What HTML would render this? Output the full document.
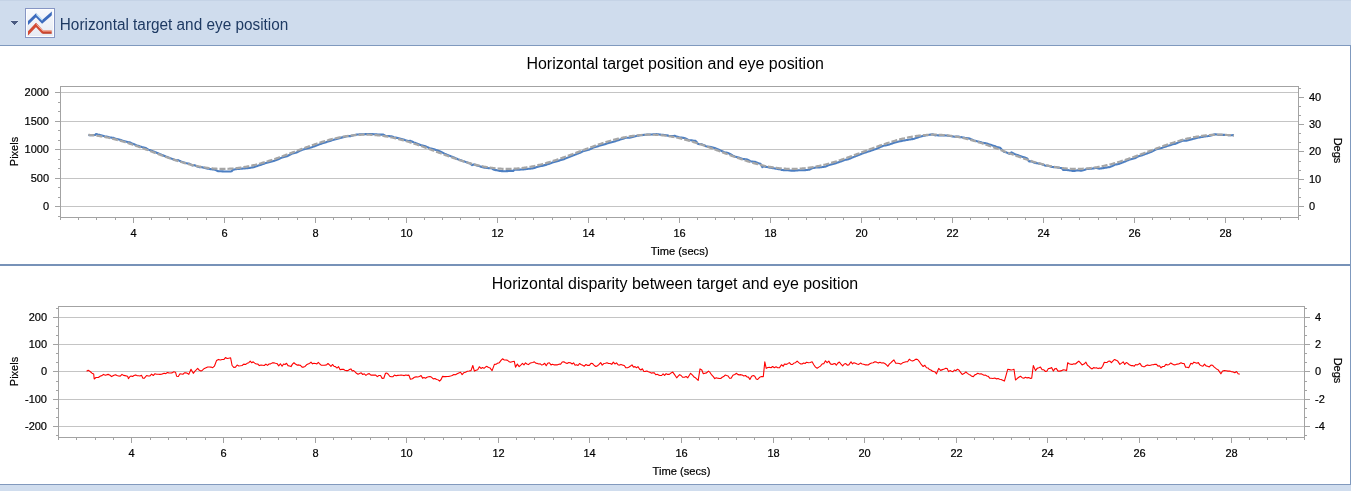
<!DOCTYPE html>
<html><head><meta charset="utf-8"><title>Horizontal target and eye position</title>
<style>
html,body{margin:0;padding:0;background:#fff;}
body{width:1351px;height:491px;overflow:hidden;position:relative;font-family:'Liberation Sans', Arial, sans-serif;}
#hdr{position:absolute;left:0;top:0;width:1351px;height:45px;background:#cfdced;border-top:1px solid #c5d3e6;box-sizing:border-box;}
#hdrline{position:absolute;left:0;top:45px;width:1351px;height:1px;background:#7f99be;}
#rb{position:absolute;left:1350px;top:46px;width:1px;height:439px;background:#7f99be;}
#sep{position:absolute;left:0;top:264px;width:1350px;height:2px;background:#7792b8;}
#bot{position:absolute;left:0;top:484px;width:1351px;height:1px;background:#8199bd;}
#botbg{position:absolute;left:0;top:485px;width:1351px;height:6px;background:#d0ddee;}
svg{position:absolute;left:0;top:0;}
svg text{font-family:'Liberation Sans', Arial, sans-serif;}
</style></head><body>
<div id="hdr"></div>
<div id="hdrline"></div>
<svg width="1351" height="491" viewBox="0 0 1351 491">
<defs><linearGradient id="ig" x1="0" y1="0" x2="0" y2="1"><stop offset="0" stop-color="#f9fafd"/><stop offset="1" stop-color="#e6eaf3"/></linearGradient><clipPath id="ic"><rect x="28" y="9" width="23.8" height="27"/></clipPath></defs>

<rect x="25.5" y="8.5" width="29" height="29" fill="url(#ig)" stroke="#8796c4"/><rect x="26.5" y="9.5" width="27" height="27" fill="none" stroke="#ffffff" stroke-opacity="0.9"/>
<g clip-path="url(#ic)"><polyline points="27,24 36,15.2 42.2,21.8 52.8,12.6" fill="none" stroke="#3d6bbd" stroke-width="2.9" stroke-linejoin="miter"/>
<polyline points="36.4,14.3 42.4,20.2" fill="none" stroke="#c2e4fa" stroke-width="1.2"/>
<polyline points="27.2,34.2 36,25 42.6,32 51.8,32" fill="none" stroke="#d24a33" stroke-width="3" stroke-linejoin="miter"/>
<polyline points="36.4,24.3 42.9,31 51.8,31" fill="none" stroke="#f6b8a2" stroke-width="0.9"/>
<polyline points="42.6,33.2 51.8,33.2" fill="none" stroke="#b03520" stroke-width="0.8"/></g>
<rect x="11" y="21" width="7" height="1" fill="#4a5a80"/>
<rect x="12" y="22" width="5" height="1" fill="#4a5a80"/>
<rect x="13" y="23" width="3" height="1" fill="#4a5a80"/>
<rect x="14" y="24" width="1" height="1" fill="#4a5a80"/>
<rect x="11" y="20" width="7" height="1" fill="#dbe4f1"/>

<g shape-rendering="crispEdges">
<rect x="61" y="92" width="1237" height="1" fill="#c4c4c4"/>
<rect x="61" y="121" width="1237" height="1" fill="#c4c4c4"/>
<rect x="61" y="149" width="1237" height="1" fill="#c4c4c4"/>
<rect x="61" y="178" width="1237" height="1" fill="#c4c4c4"/>
<rect x="61" y="206" width="1237" height="1" fill="#c4c4c4"/>
<rect x="60" y="86" width="1239" height="1" fill="#a3a3a3"/>
<rect x="60" y="217" width="1239" height="1" fill="#a3a3a3"/>
<rect x="60" y="86" width="1" height="134" fill="#a3a3a3"/>
<rect x="1298" y="86" width="1" height="134" fill="#a3a3a3"/>
<rect x="55" y="92" width="5" height="1" fill="#a3a3a3"/>
<rect x="55" y="121" width="5" height="1" fill="#a3a3a3"/>
<rect x="55" y="149" width="5" height="1" fill="#a3a3a3"/>
<rect x="55" y="178" width="5" height="1" fill="#a3a3a3"/>
<rect x="55" y="206" width="5" height="1" fill="#a3a3a3"/>
<rect x="58" y="102" width="2" height="1" fill="#a3a3a3"/>
<rect x="58" y="111" width="2" height="1" fill="#a3a3a3"/>
<rect x="58" y="130" width="2" height="1" fill="#a3a3a3"/>
<rect x="58" y="140" width="2" height="1" fill="#a3a3a3"/>
<rect x="58" y="159" width="2" height="1" fill="#a3a3a3"/>
<rect x="58" y="168" width="2" height="1" fill="#a3a3a3"/>
<rect x="58" y="187" width="2" height="1" fill="#a3a3a3"/>
<rect x="58" y="197" width="2" height="1" fill="#a3a3a3"/>
<rect x="58" y="216" width="2" height="1" fill="#a3a3a3"/>
<rect x="1299" y="97" width="5" height="1" fill="#a3a3a3"/>
<rect x="1299" y="124" width="5" height="1" fill="#a3a3a3"/>
<rect x="1299" y="151" width="5" height="1" fill="#a3a3a3"/>
<rect x="1299" y="179" width="5" height="1" fill="#a3a3a3"/>
<rect x="1299" y="206" width="5" height="1" fill="#a3a3a3"/>
<rect x="1299" y="88" width="2" height="1" fill="#a3a3a3"/>
<rect x="1299" y="106" width="2" height="1" fill="#a3a3a3"/>
<rect x="1299" y="115" width="2" height="1" fill="#a3a3a3"/>
<rect x="1299" y="133" width="2" height="1" fill="#a3a3a3"/>
<rect x="1299" y="142" width="2" height="1" fill="#a3a3a3"/>
<rect x="1299" y="161" width="2" height="1" fill="#a3a3a3"/>
<rect x="1299" y="170" width="2" height="1" fill="#a3a3a3"/>
<rect x="1299" y="188" width="2" height="1" fill="#a3a3a3"/>
<rect x="1299" y="197" width="2" height="1" fill="#a3a3a3"/>
<rect x="1299" y="215" width="2" height="1" fill="#a3a3a3"/>
<rect x="60" y="218" width="1" height="2" fill="#a3a3a3"/>
<rect x="78" y="218" width="1" height="2" fill="#a3a3a3"/>
<rect x="96" y="218" width="1" height="2" fill="#a3a3a3"/>
<rect x="115" y="218" width="1" height="2" fill="#a3a3a3"/>
<rect x="133" y="218" width="1" height="5" fill="#a3a3a3"/>
<rect x="151" y="218" width="1" height="2" fill="#a3a3a3"/>
<rect x="169" y="218" width="1" height="2" fill="#a3a3a3"/>
<rect x="187" y="218" width="1" height="2" fill="#a3a3a3"/>
<rect x="206" y="218" width="1" height="2" fill="#a3a3a3"/>
<rect x="224" y="218" width="1" height="5" fill="#a3a3a3"/>
<rect x="242" y="218" width="1" height="2" fill="#a3a3a3"/>
<rect x="260" y="218" width="1" height="2" fill="#a3a3a3"/>
<rect x="278" y="218" width="1" height="2" fill="#a3a3a3"/>
<rect x="297" y="218" width="1" height="2" fill="#a3a3a3"/>
<rect x="315" y="218" width="1" height="5" fill="#a3a3a3"/>
<rect x="333" y="218" width="1" height="2" fill="#a3a3a3"/>
<rect x="351" y="218" width="1" height="2" fill="#a3a3a3"/>
<rect x="369" y="218" width="1" height="2" fill="#a3a3a3"/>
<rect x="388" y="218" width="1" height="2" fill="#a3a3a3"/>
<rect x="406" y="218" width="1" height="5" fill="#a3a3a3"/>
<rect x="424" y="218" width="1" height="2" fill="#a3a3a3"/>
<rect x="442" y="218" width="1" height="2" fill="#a3a3a3"/>
<rect x="460" y="218" width="1" height="2" fill="#a3a3a3"/>
<rect x="479" y="218" width="1" height="2" fill="#a3a3a3"/>
<rect x="497" y="218" width="1" height="5" fill="#a3a3a3"/>
<rect x="515" y="218" width="1" height="2" fill="#a3a3a3"/>
<rect x="533" y="218" width="1" height="2" fill="#a3a3a3"/>
<rect x="552" y="218" width="1" height="2" fill="#a3a3a3"/>
<rect x="570" y="218" width="1" height="2" fill="#a3a3a3"/>
<rect x="588" y="218" width="1" height="5" fill="#a3a3a3"/>
<rect x="606" y="218" width="1" height="2" fill="#a3a3a3"/>
<rect x="624" y="218" width="1" height="2" fill="#a3a3a3"/>
<rect x="643" y="218" width="1" height="2" fill="#a3a3a3"/>
<rect x="661" y="218" width="1" height="2" fill="#a3a3a3"/>
<rect x="679" y="218" width="1" height="5" fill="#a3a3a3"/>
<rect x="697" y="218" width="1" height="2" fill="#a3a3a3"/>
<rect x="715" y="218" width="1" height="2" fill="#a3a3a3"/>
<rect x="734" y="218" width="1" height="2" fill="#a3a3a3"/>
<rect x="752" y="218" width="1" height="2" fill="#a3a3a3"/>
<rect x="770" y="218" width="1" height="5" fill="#a3a3a3"/>
<rect x="788" y="218" width="1" height="2" fill="#a3a3a3"/>
<rect x="806" y="218" width="1" height="2" fill="#a3a3a3"/>
<rect x="825" y="218" width="1" height="2" fill="#a3a3a3"/>
<rect x="843" y="218" width="1" height="2" fill="#a3a3a3"/>
<rect x="861" y="218" width="1" height="5" fill="#a3a3a3"/>
<rect x="879" y="218" width="1" height="2" fill="#a3a3a3"/>
<rect x="897" y="218" width="1" height="2" fill="#a3a3a3"/>
<rect x="916" y="218" width="1" height="2" fill="#a3a3a3"/>
<rect x="934" y="218" width="1" height="2" fill="#a3a3a3"/>
<rect x="952" y="218" width="1" height="5" fill="#a3a3a3"/>
<rect x="970" y="218" width="1" height="2" fill="#a3a3a3"/>
<rect x="988" y="218" width="1" height="2" fill="#a3a3a3"/>
<rect x="1007" y="218" width="1" height="2" fill="#a3a3a3"/>
<rect x="1025" y="218" width="1" height="2" fill="#a3a3a3"/>
<rect x="1043" y="218" width="1" height="5" fill="#a3a3a3"/>
<rect x="1061" y="218" width="1" height="2" fill="#a3a3a3"/>
<rect x="1079" y="218" width="1" height="2" fill="#a3a3a3"/>
<rect x="1098" y="218" width="1" height="2" fill="#a3a3a3"/>
<rect x="1116" y="218" width="1" height="2" fill="#a3a3a3"/>
<rect x="1134" y="218" width="1" height="5" fill="#a3a3a3"/>
<rect x="1152" y="218" width="1" height="2" fill="#a3a3a3"/>
<rect x="1170" y="218" width="1" height="2" fill="#a3a3a3"/>
<rect x="1189" y="218" width="1" height="2" fill="#a3a3a3"/>
<rect x="1207" y="218" width="1" height="2" fill="#a3a3a3"/>
<rect x="1225" y="218" width="1" height="5" fill="#a3a3a3"/>
<rect x="1243" y="218" width="1" height="2" fill="#a3a3a3"/>
<rect x="1261" y="218" width="1" height="2" fill="#a3a3a3"/>
<rect x="1280" y="218" width="1" height="2" fill="#a3a3a3"/>
<rect x="1298" y="218" width="1" height="2" fill="#a3a3a3"/>
<rect x="59" y="317" width="1245" height="1" fill="#c4c4c4"/>
<rect x="59" y="344" width="1245" height="1" fill="#c4c4c4"/>
<rect x="59" y="371" width="1245" height="1" fill="#c4c4c4"/>
<rect x="59" y="399" width="1245" height="1" fill="#c4c4c4"/>
<rect x="59" y="426" width="1245" height="1" fill="#c4c4c4"/>
<rect x="58" y="306" width="1247" height="1" fill="#a3a3a3"/>
<rect x="58" y="437" width="1247" height="1" fill="#a3a3a3"/>
<rect x="58" y="306" width="1" height="134" fill="#a3a3a3"/>
<rect x="1304" y="306" width="1" height="134" fill="#a3a3a3"/>
<rect x="53" y="317" width="5" height="1" fill="#a3a3a3"/>
<rect x="53" y="344" width="5" height="1" fill="#a3a3a3"/>
<rect x="53" y="371" width="5" height="1" fill="#a3a3a3"/>
<rect x="53" y="399" width="5" height="1" fill="#a3a3a3"/>
<rect x="53" y="426" width="5" height="1" fill="#a3a3a3"/>
<rect x="56" y="308" width="2" height="1" fill="#a3a3a3"/>
<rect x="56" y="326" width="2" height="1" fill="#a3a3a3"/>
<rect x="56" y="335" width="2" height="1" fill="#a3a3a3"/>
<rect x="56" y="353" width="2" height="1" fill="#a3a3a3"/>
<rect x="56" y="362" width="2" height="1" fill="#a3a3a3"/>
<rect x="56" y="381" width="2" height="1" fill="#a3a3a3"/>
<rect x="56" y="390" width="2" height="1" fill="#a3a3a3"/>
<rect x="56" y="408" width="2" height="1" fill="#a3a3a3"/>
<rect x="56" y="417" width="2" height="1" fill="#a3a3a3"/>
<rect x="56" y="435" width="2" height="1" fill="#a3a3a3"/>
<rect x="1305" y="317" width="5" height="1" fill="#a3a3a3"/>
<rect x="1305" y="344" width="5" height="1" fill="#a3a3a3"/>
<rect x="1305" y="371" width="5" height="1" fill="#a3a3a3"/>
<rect x="1305" y="399" width="5" height="1" fill="#a3a3a3"/>
<rect x="1305" y="426" width="5" height="1" fill="#a3a3a3"/>
<rect x="1305" y="308" width="2" height="1" fill="#a3a3a3"/>
<rect x="1305" y="326" width="2" height="1" fill="#a3a3a3"/>
<rect x="1305" y="335" width="2" height="1" fill="#a3a3a3"/>
<rect x="1305" y="353" width="2" height="1" fill="#a3a3a3"/>
<rect x="1305" y="362" width="2" height="1" fill="#a3a3a3"/>
<rect x="1305" y="381" width="2" height="1" fill="#a3a3a3"/>
<rect x="1305" y="390" width="2" height="1" fill="#a3a3a3"/>
<rect x="1305" y="408" width="2" height="1" fill="#a3a3a3"/>
<rect x="1305" y="417" width="2" height="1" fill="#a3a3a3"/>
<rect x="1305" y="435" width="2" height="1" fill="#a3a3a3"/>
<rect x="58" y="438" width="1" height="2" fill="#a3a3a3"/>
<rect x="76" y="438" width="1" height="2" fill="#a3a3a3"/>
<rect x="95" y="438" width="1" height="2" fill="#a3a3a3"/>
<rect x="113" y="438" width="1" height="2" fill="#a3a3a3"/>
<rect x="131" y="438" width="1" height="5" fill="#a3a3a3"/>
<rect x="150" y="438" width="1" height="2" fill="#a3a3a3"/>
<rect x="168" y="438" width="1" height="2" fill="#a3a3a3"/>
<rect x="186" y="438" width="1" height="2" fill="#a3a3a3"/>
<rect x="205" y="438" width="1" height="2" fill="#a3a3a3"/>
<rect x="223" y="438" width="1" height="5" fill="#a3a3a3"/>
<rect x="241" y="438" width="1" height="2" fill="#a3a3a3"/>
<rect x="260" y="438" width="1" height="2" fill="#a3a3a3"/>
<rect x="278" y="438" width="1" height="2" fill="#a3a3a3"/>
<rect x="296" y="438" width="1" height="2" fill="#a3a3a3"/>
<rect x="315" y="438" width="1" height="5" fill="#a3a3a3"/>
<rect x="333" y="438" width="1" height="2" fill="#a3a3a3"/>
<rect x="351" y="438" width="1" height="2" fill="#a3a3a3"/>
<rect x="370" y="438" width="1" height="2" fill="#a3a3a3"/>
<rect x="388" y="438" width="1" height="2" fill="#a3a3a3"/>
<rect x="406" y="438" width="1" height="5" fill="#a3a3a3"/>
<rect x="424" y="438" width="1" height="2" fill="#a3a3a3"/>
<rect x="443" y="438" width="1" height="2" fill="#a3a3a3"/>
<rect x="461" y="438" width="1" height="2" fill="#a3a3a3"/>
<rect x="479" y="438" width="1" height="2" fill="#a3a3a3"/>
<rect x="498" y="438" width="1" height="5" fill="#a3a3a3"/>
<rect x="516" y="438" width="1" height="2" fill="#a3a3a3"/>
<rect x="534" y="438" width="1" height="2" fill="#a3a3a3"/>
<rect x="553" y="438" width="1" height="2" fill="#a3a3a3"/>
<rect x="571" y="438" width="1" height="2" fill="#a3a3a3"/>
<rect x="589" y="438" width="1" height="5" fill="#a3a3a3"/>
<rect x="608" y="438" width="1" height="2" fill="#a3a3a3"/>
<rect x="626" y="438" width="1" height="2" fill="#a3a3a3"/>
<rect x="644" y="438" width="1" height="2" fill="#a3a3a3"/>
<rect x="663" y="438" width="1" height="2" fill="#a3a3a3"/>
<rect x="681" y="438" width="1" height="5" fill="#a3a3a3"/>
<rect x="699" y="438" width="1" height="2" fill="#a3a3a3"/>
<rect x="718" y="438" width="1" height="2" fill="#a3a3a3"/>
<rect x="736" y="438" width="1" height="2" fill="#a3a3a3"/>
<rect x="754" y="438" width="1" height="2" fill="#a3a3a3"/>
<rect x="773" y="438" width="1" height="5" fill="#a3a3a3"/>
<rect x="791" y="438" width="1" height="2" fill="#a3a3a3"/>
<rect x="809" y="438" width="1" height="2" fill="#a3a3a3"/>
<rect x="828" y="438" width="1" height="2" fill="#a3a3a3"/>
<rect x="846" y="438" width="1" height="2" fill="#a3a3a3"/>
<rect x="864" y="438" width="1" height="5" fill="#a3a3a3"/>
<rect x="883" y="438" width="1" height="2" fill="#a3a3a3"/>
<rect x="901" y="438" width="1" height="2" fill="#a3a3a3"/>
<rect x="919" y="438" width="1" height="2" fill="#a3a3a3"/>
<rect x="938" y="438" width="1" height="2" fill="#a3a3a3"/>
<rect x="956" y="438" width="1" height="5" fill="#a3a3a3"/>
<rect x="974" y="438" width="1" height="2" fill="#a3a3a3"/>
<rect x="993" y="438" width="1" height="2" fill="#a3a3a3"/>
<rect x="1011" y="438" width="1" height="2" fill="#a3a3a3"/>
<rect x="1029" y="438" width="1" height="2" fill="#a3a3a3"/>
<rect x="1047" y="438" width="1" height="5" fill="#a3a3a3"/>
<rect x="1066" y="438" width="1" height="2" fill="#a3a3a3"/>
<rect x="1084" y="438" width="1" height="2" fill="#a3a3a3"/>
<rect x="1102" y="438" width="1" height="2" fill="#a3a3a3"/>
<rect x="1121" y="438" width="1" height="2" fill="#a3a3a3"/>
<rect x="1139" y="438" width="1" height="5" fill="#a3a3a3"/>
<rect x="1157" y="438" width="1" height="2" fill="#a3a3a3"/>
<rect x="1176" y="438" width="1" height="2" fill="#a3a3a3"/>
<rect x="1194" y="438" width="1" height="2" fill="#a3a3a3"/>
<rect x="1212" y="438" width="1" height="2" fill="#a3a3a3"/>
<rect x="1231" y="438" width="1" height="5" fill="#a3a3a3"/>
<rect x="1249" y="438" width="1" height="2" fill="#a3a3a3"/>
<rect x="1267" y="438" width="1" height="2" fill="#a3a3a3"/>
<rect x="1286" y="438" width="1" height="2" fill="#a3a3a3"/>
<rect x="1304" y="438" width="1" height="2" fill="#a3a3a3"/>
</g>
<path d="M88.42,134.97 L89.37,135.16 L90.33,135.26 L91.28,135.18 L92.23,135.11 L93.19,135.04 L94.14,135.01 L95.10,135.02 L96.05,134.07 L97.01,134.35 L97.96,134.61 L98.92,134.75 L99.87,134.89 L100.83,135.15 L101.78,135.45 L102.74,135.73 L103.69,136.02 L104.64,136.30 L105.60,136.50 L106.55,136.60 L107.51,136.76 L108.46,137.02 L109.42,137.29 L110.37,137.52 L111.33,137.60 L112.28,137.69 L113.24,137.78 L114.19,138.13 L115.15,138.49 L116.10,138.78 L117.05,139.00 L118.01,139.23 L118.96,139.46 L119.92,139.69 L120.87,140.03 L121.83,140.41 L122.78,140.78 L123.74,141.14 L124.69,141.35 L125.65,141.57 L126.60,141.79 L127.56,142.05 L128.51,142.32 L129.46,142.39 L130.42,142.54 L131.37,143.13 L132.33,143.58 L133.28,143.97 L134.24,144.35 L135.19,144.74 L136.15,145.13 L137.10,145.50 L138.06,145.80 L139.01,146.09 L139.97,146.39 L140.92,146.69 L141.87,146.97 L142.83,147.22 L143.78,147.47 L144.74,147.73 L145.69,147.99 L146.65,148.54 L147.60,149.14 L148.56,149.61 L149.51,149.97 L150.47,150.33 L151.42,150.69 L152.38,151.05 L153.33,151.41 L154.29,151.77 L155.24,152.15 L156.19,152.54 L157.15,152.94 L158.10,153.33 L159.06,153.72 L160.01,154.10 L160.97,154.49 L161.92,154.89 L162.88,155.29 L163.83,155.69 L164.79,156.09 L165.74,156.48 L166.70,156.84 L167.65,157.20 L168.60,157.56 L169.56,157.91 L170.51,158.27 L171.47,158.62 L172.42,158.96 L173.38,159.31 L174.33,159.65 L175.29,159.99 L176.24,160.32 L177.20,160.28 L178.15,160.15 L179.11,160.60 L180.06,161.03 L181.01,161.47 L181.97,161.82 L182.92,162.14 L183.88,162.46 L184.83,162.77 L185.79,163.06 L186.74,163.25 L187.70,163.44 L188.65,163.62 L189.61,163.80 L190.56,164.32 L191.52,165.02 L192.47,165.43 L193.42,165.30 L194.38,165.17 L195.33,165.58 L196.29,166.01 L197.24,166.43 L198.20,166.85 L199.15,167.11 L200.11,167.12 L201.06,167.13 L202.02,167.13 L202.97,167.44 L203.93,167.75 L204.88,168.05 L205.83,168.30 L206.79,168.47 L207.74,168.64 L208.70,168.79 L209.65,168.94 L210.61,169.09 L211.56,169.22 L212.52,169.36 L213.47,169.49 L214.43,169.62 L215.38,169.74 L216.34,170.32 L217.29,170.90 L218.24,171.12 L219.20,171.19 L220.15,171.25 L221.11,171.31 L222.06,171.35 L223.02,171.39 L223.97,171.43 L224.93,171.46 L225.88,171.48 L226.84,171.49 L227.79,171.50 L228.75,171.50 L229.70,171.49 L230.65,171.48 L231.61,171.30 L232.56,170.20 L233.52,169.64 L234.47,169.46 L235.43,169.27 L236.38,169.08 L237.34,169.02 L238.29,168.96 L239.25,168.89 L240.20,168.81 L241.16,168.72 L242.11,168.62 L243.07,168.53 L244.02,168.46 L244.97,168.38 L245.93,168.29 L246.88,168.20 L247.84,168.10 L248.79,167.99 L249.75,167.87 L250.70,167.71 L251.66,167.54 L252.61,167.37 L253.57,167.19 L254.52,166.92 L255.48,166.58 L256.43,166.25 L257.38,165.90 L258.34,165.56 L259.29,165.25 L260.25,164.95 L261.20,164.63 L262.16,164.32 L263.11,164.00 L264.07,163.67 L265.02,163.35 L265.98,163.10 L266.93,162.84 L267.89,162.58 L268.84,162.32 L269.79,162.05 L270.75,161.78 L271.70,161.51 L272.66,161.23 L273.61,160.94 L274.57,160.66 L275.52,160.37 L276.48,160.01 L277.43,159.59 L278.39,159.17 L279.34,158.74 L280.30,158.31 L281.25,157.88 L282.20,157.45 L283.16,157.13 L284.11,156.91 L285.07,156.69 L286.02,156.47 L286.98,156.25 L287.93,155.75 L288.89,155.25 L289.84,154.74 L290.80,154.24 L291.75,153.80 L292.71,153.56 L293.66,153.32 L294.61,153.08 L295.57,152.84 L296.52,152.45 L297.48,151.99 L298.43,151.54 L299.39,151.09 L300.34,150.64 L301.30,150.19 L302.25,149.74 L303.21,149.44 L304.16,149.20 L305.12,148.96 L306.07,148.72 L307.02,148.48 L307.98,148.25 L308.93,148.02 L309.89,147.79 L310.84,147.56 L311.80,147.26 L312.75,146.89 L313.71,146.52 L314.66,146.15 L315.62,145.79 L316.57,145.43 L317.53,145.07 L318.48,144.72 L319.43,144.37 L320.39,144.02 L321.34,143.70 L322.30,143.37 L323.25,143.06 L324.21,142.74 L325.16,142.43 L326.12,142.13 L327.07,141.82 L328.03,141.52 L328.98,141.22 L329.94,140.92 L330.89,140.63 L331.85,140.35 L332.80,140.07 L333.75,139.79 L334.71,139.53 L335.66,139.26 L336.62,138.97 L337.57,138.69 L338.53,138.41 L339.48,138.14 L340.44,137.88 L341.39,137.62 L342.35,137.37 L343.30,137.12 L344.26,136.88 L345.21,136.65 L346.16,136.43 L347.12,136.29 L348.07,136.23 L349.03,136.17 L349.98,136.13 L350.94,136.09 L351.89,135.83 L352.85,135.57 L353.80,135.32 L354.76,135.07 L355.71,134.83 L356.67,134.62 L357.62,134.54 L358.57,134.47 L359.53,134.41 L360.48,134.35 L361.44,134.30 L362.39,134.26 L363.35,134.23 L364.30,134.20 L365.26,134.16 L366.21,134.12 L367.17,134.09 L368.12,134.07 L369.08,134.06 L370.03,134.05 L370.98,134.05 L371.94,134.09 L372.89,134.14 L373.85,134.19 L374.80,134.25 L375.76,134.32 L376.71,134.39 L377.67,134.48 L378.62,134.57 L379.58,134.58 L380.53,134.59 L381.49,134.60 L382.44,134.62 L383.39,134.64 L384.35,135.16 L385.30,135.89 L386.26,135.97 L387.21,136.02 L388.17,136.07 L389.12,136.13 L390.08,136.19 L391.03,136.29 L391.99,136.58 L392.94,136.87 L393.90,137.17 L394.85,137.42 L395.80,137.64 L396.76,137.86 L397.71,138.10 L398.67,138.34 L399.62,138.58 L400.58,138.83 L401.53,139.09 L402.49,139.35 L403.44,139.61 L404.40,139.88 L405.35,140.16 L406.31,140.44 L407.26,140.73 L408.21,141.02 L409.17,140.98 L410.12,140.73 L411.08,141.14 L412.03,141.54 L412.99,141.96 L413.94,142.37 L414.90,142.75 L415.85,143.13 L416.81,143.51 L417.76,143.89 L418.72,144.27 L419.67,144.66 L420.63,145.05 L421.58,145.29 L422.53,145.51 L423.49,145.73 L424.44,145.95 L425.40,146.24 L426.35,146.66 L427.31,147.09 L428.26,147.51 L429.22,147.94 L430.17,148.26 L431.13,148.53 L432.08,148.80 L433.04,149.07 L433.99,149.35 L434.94,149.62 L435.90,149.89 L436.85,150.23 L437.81,150.59 L438.76,150.95 L439.72,151.31 L440.67,151.68 L441.63,152.17 L442.58,152.66 L443.54,153.15 L444.49,153.64 L445.45,154.08 L446.40,154.46 L447.35,154.85 L448.31,155.23 L449.26,155.61 L450.22,155.99 L451.17,156.36 L452.13,156.76 L453.08,157.18 L454.04,157.59 L454.99,158.01 L455.95,158.41 L456.90,158.82 L457.86,159.22 L458.81,159.58 L459.76,159.92 L460.72,160.25 L461.67,160.58 L462.63,160.91 L463.58,161.23 L464.54,161.55 L465.49,161.88 L466.45,162.23 L467.40,162.57 L468.36,162.91 L469.31,163.24 L470.27,163.56 L471.22,164.38 L472.17,165.09 L473.13,164.63 L474.08,164.51 L475.04,164.84 L475.99,165.15 L476.95,165.46 L477.90,165.77 L478.86,166.07 L479.81,166.36 L480.77,166.64 L481.72,166.89 L482.68,167.14 L483.63,167.39 L484.58,167.62 L485.54,167.78 L486.49,167.91 L487.45,168.04 L488.40,168.16 L489.36,168.20 L490.31,168.09 L491.27,167.97 L492.22,168.63 L493.18,169.29 L494.13,169.68 L495.09,169.91 L496.04,170.13 L496.99,170.33 L497.95,170.54 L498.90,170.73 L499.86,170.92 L500.81,171.02 L501.77,171.09 L502.72,171.15 L503.68,171.20 L504.63,171.24 L505.59,171.21 L506.54,171.17 L507.50,171.12 L508.45,171.06 L509.41,170.99 L510.36,170.92 L511.31,170.86 L512.27,170.87 L513.22,170.88 L514.18,169.96 L515.13,169.62 L516.09,169.64 L517.04,169.65 L518.00,169.65 L518.95,169.64 L519.91,169.63 L520.86,169.57 L521.82,169.50 L522.77,169.42 L523.72,169.33 L524.68,169.24 L525.63,169.14 L526.59,169.03 L527.54,168.92 L528.50,168.80 L529.45,168.69 L530.41,168.59 L531.36,168.48 L532.32,168.37 L533.27,168.23 L534.23,167.94 L535.18,167.64 L536.13,167.33 L537.09,167.01 L538.04,166.74 L539.00,166.53 L539.95,166.31 L540.91,166.09 L541.86,165.86 L542.82,165.63 L543.77,165.39 L544.73,165.14 L545.68,164.89 L546.64,164.63 L547.59,164.30 L548.54,163.97 L549.50,163.64 L550.45,163.30 L551.41,162.95 L552.36,162.61 L553.32,162.28 L554.27,162.01 L555.23,161.74 L556.18,161.47 L557.14,161.19 L558.09,160.91 L559.05,160.62 L560.00,160.33 L560.95,160.04 L561.91,159.74 L562.86,159.45 L563.82,159.15 L564.77,158.79 L565.73,158.40 L566.68,158.02 L567.64,157.63 L568.59,157.24 L569.55,156.85 L570.50,156.46 L571.46,156.08 L572.41,155.72 L573.36,155.35 L574.32,154.98 L575.27,154.62 L576.23,154.25 L577.18,153.88 L578.14,153.51 L579.09,153.14 L580.05,152.72 L581.00,152.25 L581.96,151.78 L582.91,151.32 L583.87,151.05 L584.82,150.78 L585.77,150.51 L586.73,150.24 L587.68,149.97 L588.64,149.71 L589.59,149.43 L590.55,148.94 L591.50,148.46 L592.46,147.98 L593.41,147.62 L594.37,147.32 L595.32,147.02 L596.28,146.72 L597.23,146.43 L598.19,146.14 L599.14,145.85 L600.09,145.57 L601.05,145.29 L602.00,145.02 L602.96,144.74 L603.91,144.47 L604.87,144.17 L605.82,143.88 L606.78,143.59 L607.73,143.31 L608.69,143.03 L609.64,142.75 L610.60,142.48 L611.55,142.22 L612.50,141.96 L613.46,141.70 L614.41,141.45 L615.37,141.17 L616.32,140.85 L617.28,140.54 L618.23,140.24 L619.19,139.94 L620.14,139.62 L621.10,139.30 L622.05,138.99 L623.01,138.68 L623.96,138.38 L624.91,138.09 L625.87,137.80 L626.82,137.75 L627.78,137.71 L628.73,137.68 L629.69,137.65 L630.64,137.52 L631.60,137.25 L632.55,136.98 L633.51,136.72 L634.46,136.47 L635.42,136.24 L636.37,136.03 L637.32,135.83 L638.28,135.63 L639.23,135.45 L640.19,135.32 L641.14,135.20 L642.10,135.09 L643.05,134.98 L644.01,134.88 L644.96,134.79 L645.92,134.70 L646.87,134.63 L647.83,134.56 L648.78,134.51 L649.73,134.47 L650.69,134.45 L651.64,134.43 L652.60,134.40 L653.55,134.32 L654.51,134.26 L655.46,134.20 L656.42,134.14 L657.37,134.20 L658.33,134.32 L659.28,134.45 L660.24,134.59 L661.19,134.73 L662.14,134.80 L663.10,134.87 L664.05,134.95 L665.01,135.04 L665.96,135.18 L666.92,135.39 L667.87,135.61 L668.83,135.84 L669.78,135.95 L670.74,136.02 L671.69,136.09 L672.65,136.11 L673.60,135.99 L674.56,135.87 L675.51,136.13 L676.46,136.43 L677.42,136.74 L678.37,137.05 L679.33,137.31 L680.28,137.42 L681.24,137.54 L682.19,137.66 L683.15,137.86 L684.10,138.07 L685.06,138.30 L686.01,138.64 L686.97,139.23 L687.92,139.82 L688.87,140.18 L689.83,140.24 L690.78,140.31 L691.74,140.39 L692.69,140.52 L693.65,140.69 L694.60,140.80 L695.56,140.91 L696.51,141.80 L697.47,143.39 L698.42,144.08 L699.38,144.27 L700.33,144.17 L701.28,144.11 L702.24,144.49 L703.19,144.88 L704.15,145.27 L705.10,145.77 L706.06,146.32 L707.01,146.47 L707.97,146.59 L708.92,146.71 L709.88,146.83 L710.83,146.96 L711.79,147.21 L712.74,147.49 L713.69,147.77 L714.65,148.06 L715.60,148.37 L716.56,148.77 L717.51,149.17 L718.47,149.57 L719.42,149.97 L720.38,150.39 L721.33,150.83 L722.29,151.28 L723.24,151.72 L724.20,152.16 L725.15,152.40 L726.10,152.64 L727.06,152.88 L728.01,153.12 L728.97,153.44 L729.92,153.97 L730.88,154.50 L731.83,155.03 L732.79,155.56 L733.74,156.09 L734.70,156.47 L735.65,156.75 L736.61,157.03 L737.56,157.30 L738.51,157.57 L739.47,157.84 L740.42,158.13 L741.38,158.44 L742.33,158.74 L743.29,158.98 L744.24,159.12 L745.20,159.25 L746.15,159.37 L747.11,159.49 L748.06,159.91 L749.02,160.44 L749.97,160.97 L750.92,161.42 L751.88,161.52 L752.83,161.61 L753.79,161.70 L754.74,161.79 L755.70,162.08 L756.65,162.52 L757.61,162.94 L758.56,163.34 L759.52,163.58 L760.47,163.81 L761.43,165.58 L762.38,167.16 L763.34,166.43 L764.29,166.43 L765.24,166.66 L766.20,166.88 L767.15,167.10 L768.11,167.31 L769.06,167.49 L770.02,167.66 L770.97,167.83 L771.93,167.99 L772.88,168.14 L773.84,168.28 L774.79,168.42 L775.75,168.60 L776.70,168.78 L777.65,168.95 L778.61,169.12 L779.56,169.28 L780.52,169.43 L781.47,169.91 L782.43,170.05 L783.38,170.11 L784.34,170.17 L785.29,170.21 L786.25,170.25 L787.20,170.28 L788.16,170.30 L789.11,170.40 L790.06,170.50 L791.02,170.58 L791.97,170.67 L792.93,170.71 L793.88,170.66 L794.84,170.60 L795.79,170.53 L796.75,170.46 L797.70,170.38 L798.66,170.29 L799.61,170.24 L800.57,170.26 L801.52,170.27 L802.47,170.27 L803.43,170.27 L804.38,170.21 L805.34,170.12 L806.29,170.03 L807.25,169.93 L808.20,169.82 L809.16,169.71 L810.11,169.26 L811.07,168.80 L812.02,168.34 L812.98,168.01 L813.93,167.85 L814.88,167.68 L815.84,167.50 L816.79,167.51 L817.75,167.50 L818.70,167.50 L819.66,167.42 L820.61,167.30 L821.57,167.17 L822.52,167.04 L823.48,166.90 L824.43,166.75 L825.39,166.60 L826.34,166.26 L827.29,165.81 L828.25,165.36 L829.20,164.94 L830.16,164.71 L831.11,164.48 L832.07,164.24 L833.02,164.00 L833.98,163.75 L834.93,163.48 L835.89,163.16 L836.84,162.84 L837.80,162.52 L838.75,162.19 L839.70,161.86 L840.66,161.52 L841.61,161.17 L842.57,160.81 L843.52,160.44 L844.48,160.08 L845.43,159.70 L846.39,159.59 L847.34,159.53 L848.30,159.30 L849.25,158.89 L850.21,158.47 L851.16,158.06 L852.12,157.64 L853.07,157.26 L854.02,156.89 L854.98,156.52 L855.93,156.14 L856.89,155.76 L857.84,155.38 L858.80,155.00 L859.75,154.60 L860.71,154.20 L861.66,153.80 L862.62,153.40 L863.57,153.04 L864.53,152.75 L865.48,152.45 L866.43,152.16 L867.39,151.86 L868.34,151.57 L869.30,151.28 L870.25,150.97 L871.21,150.63 L872.16,150.29 L873.12,149.95 L874.07,149.61 L875.03,149.28 L875.98,148.95 L876.94,148.57 L877.89,148.15 L878.84,147.73 L879.80,147.31 L880.75,146.89 L881.71,146.47 L882.66,146.06 L883.62,145.77 L884.57,145.57 L885.53,145.37 L886.48,145.18 L887.44,144.99 L888.39,144.80 L889.35,144.48 L890.30,144.12 L891.25,143.75 L892.21,143.40 L893.16,143.05 L894.12,142.70 L895.07,142.45 L896.03,142.22 L896.98,141.98 L897.94,141.75 L898.89,141.53 L899.85,141.31 L900.80,141.10 L901.76,140.91 L902.71,140.73 L903.66,140.56 L904.62,140.39 L905.57,140.23 L906.53,140.07 L907.48,139.92 L908.44,139.75 L909.39,139.58 L910.35,139.42 L911.30,139.27 L912.26,139.13 L913.21,138.99 L914.17,138.80 L915.12,138.40 L916.07,138.01 L917.03,137.70 L917.98,137.40 L918.94,137.11 L919.89,136.83 L920.85,136.55 L921.80,136.28 L922.76,136.02 L923.71,135.82 L924.67,135.64 L925.62,135.47 L926.58,135.31 L927.53,135.14 L928.48,134.95 L929.44,134.77 L930.39,134.60 L931.35,134.44 L932.30,134.28 L933.26,134.47 L934.21,134.95 L935.17,135.33 L936.12,135.32 L937.08,135.32 L938.03,135.33 L938.99,135.34 L939.94,135.37 L940.90,135.38 L941.85,135.38 L942.80,135.38 L943.76,135.39 L944.71,135.41 L945.67,135.44 L946.62,135.51 L947.58,135.64 L948.53,135.78 L949.49,135.92 L950.44,136.07 L951.40,136.20 L952.35,136.34 L953.31,136.48 L954.26,136.63 L955.21,136.73 L956.17,136.62 L957.12,136.53 L958.08,136.44 L959.03,136.64 L959.99,136.93 L960.94,137.16 L961.90,137.31 L962.85,137.47 L963.81,137.64 L964.76,137.81 L965.72,137.95 L966.67,138.08 L967.62,138.22 L968.58,138.36 L969.53,138.57 L970.49,138.98 L971.44,139.38 L972.40,139.80 L973.35,140.22 L974.31,140.54 L975.26,140.79 L976.22,141.05 L977.17,141.31 L978.13,141.54 L979.08,141.78 L980.03,142.02 L980.99,142.27 L981.94,142.50 L982.90,142.70 L983.85,142.91 L984.81,143.12 L985.76,143.33 L986.72,143.55 L987.67,143.83 L988.63,144.14 L989.58,144.45 L990.54,144.77 L991.49,145.08 L992.44,145.40 L993.40,145.72 L994.35,146.05 L995.31,146.37 L996.26,146.70 L997.22,147.00 L998.17,147.26 L999.13,147.52 L1000.08,147.78 L1001.04,148.75 L1001.99,149.83 L1002.95,150.91 L1003.90,151.65 L1004.85,151.97 L1005.81,152.29 L1006.76,152.61 L1007.72,153.01 L1008.67,153.42 L1009.63,153.83 L1010.58,152.93 L1011.54,152.36 L1012.49,152.89 L1013.45,153.41 L1014.40,153.92 L1015.36,154.30 L1016.31,154.65 L1017.26,155.00 L1018.22,155.34 L1019.17,155.69 L1020.13,156.03 L1021.08,156.37 L1022.04,156.68 L1022.99,156.99 L1023.95,157.29 L1024.90,157.59 L1025.86,157.89 L1026.81,158.18 L1027.77,159.22 L1028.72,161.13 L1029.68,161.40 L1030.63,161.24 L1031.58,161.40 L1032.54,161.87 L1033.49,162.34 L1034.45,162.78 L1035.40,162.96 L1036.36,163.13 L1037.31,163.29 L1038.27,163.45 L1039.22,163.61 L1040.18,163.76 L1041.13,163.93 L1042.09,164.32 L1043.04,164.71 L1043.99,165.09 L1044.95,165.47 L1045.90,165.68 L1046.86,165.75 L1047.81,165.80 L1048.77,165.85 L1049.72,166.24 L1050.68,166.62 L1051.63,167.00 L1052.59,167.05 L1053.54,167.09 L1054.50,167.11 L1055.45,167.15 L1056.40,167.32 L1057.36,167.49 L1058.31,167.65 L1059.27,167.80 L1060.22,167.95 L1061.18,168.08 L1062.13,168.42 L1063.09,169.97 L1064.04,170.00 L1065.00,170.02 L1065.95,170.02 L1066.91,170.03 L1067.86,170.10 L1068.81,170.26 L1069.77,170.42 L1070.72,170.56 L1071.68,170.71 L1072.63,170.84 L1073.59,170.96 L1074.54,170.94 L1075.50,170.72 L1076.45,170.49 L1077.41,170.26 L1078.36,170.39 L1079.32,170.51 L1080.27,170.63 L1081.22,170.72 L1082.18,170.46 L1083.13,170.20 L1084.09,169.92 L1085.04,169.64 L1086.00,169.35 L1086.95,169.06 L1087.91,168.91 L1088.86,168.87 L1089.82,168.82 L1090.77,168.76 L1091.73,168.69 L1092.68,168.55 L1093.63,168.39 L1094.59,168.23 L1095.54,168.06 L1096.50,168.02 L1097.45,168.24 L1098.41,168.45 L1099.36,168.66 L1100.32,168.55 L1101.27,168.41 L1102.23,168.25 L1103.18,168.10 L1104.14,167.93 L1105.09,167.77 L1106.04,167.62 L1107.00,167.47 L1107.95,167.32 L1108.91,167.16 L1109.86,166.91 L1110.82,166.57 L1111.77,166.22 L1112.73,165.87 L1113.68,165.32 L1114.64,164.75 L1115.59,164.49 L1116.55,164.37 L1117.50,164.25 L1118.46,164.06 L1119.41,163.71 L1120.36,163.34 L1121.32,162.98 L1122.27,162.61 L1123.23,162.22 L1124.18,161.82 L1125.14,161.42 L1126.09,161.01 L1127.05,160.60 L1128.00,160.19 L1128.96,159.77 L1129.91,159.48 L1130.87,159.25 L1131.82,159.02 L1132.77,158.78 L1133.73,158.54 L1134.68,158.30 L1135.64,157.80 L1136.59,157.25 L1137.55,156.69 L1138.50,156.26 L1139.46,155.98 L1140.41,155.71 L1141.37,155.43 L1142.32,155.15 L1143.28,154.81 L1144.23,154.46 L1145.18,154.11 L1146.14,153.76 L1147.09,153.41 L1148.05,153.07 L1149.00,152.72 L1149.96,152.37 L1150.91,152.02 L1151.87,151.58 L1152.82,151.06 L1153.78,150.56 L1154.73,150.05 L1155.69,149.54 L1156.64,149.25 L1157.59,148.99 L1158.55,148.72 L1159.50,148.46 L1160.46,148.20 L1161.41,147.95 L1162.37,147.69 L1163.32,147.36 L1164.28,147.04 L1165.23,146.72 L1166.19,146.41 L1167.14,146.10 L1168.10,145.79 L1169.05,145.48 L1170.00,145.18 L1170.96,144.88 L1171.91,144.58 L1172.87,144.29 L1173.82,144.05 L1174.78,143.86 L1175.73,143.66 L1176.69,143.24 L1177.64,142.82 L1178.60,142.40 L1179.55,141.99 L1180.51,141.59 L1181.46,141.19 L1182.41,140.79 L1183.37,140.44 L1184.32,140.60 L1185.28,140.77 L1186.23,140.64 L1187.19,140.43 L1188.14,140.23 L1189.10,140.03 L1190.05,139.83 L1191.01,139.52 L1191.96,139.21 L1192.92,138.91 L1193.87,138.62 L1194.82,138.37 L1195.78,138.16 L1196.73,137.96 L1197.69,137.76 L1198.64,137.57 L1199.60,137.38 L1200.55,137.20 L1201.51,137.03 L1202.46,136.87 L1203.42,136.72 L1204.37,136.58 L1205.33,136.44 L1206.28,136.31 L1207.24,136.19 L1208.19,136.08 L1209.14,135.91 L1210.10,135.67 L1211.05,135.44 L1212.01,135.16 L1212.96,134.88 L1213.92,134.62 L1214.87,134.36 L1215.83,134.34 L1216.78,134.51 L1217.74,134.69 L1218.69,134.87 L1219.65,134.85 L1220.60,134.85 L1221.55,134.85 L1222.51,134.85 L1223.46,134.87 L1224.42,134.89 L1225.37,134.93 L1226.33,134.98 L1227.28,135.03 L1228.24,135.09 L1229.19,135.15 L1230.15,135.23 L1231.10,135.26 L1232.06,135.20 L1233.01,135.14 L1233.96,135.10" fill="none" stroke="#4d7fc2" stroke-width="2.1" stroke-linejoin="round"/>
<path d="M88.42,134.91 L89.37,134.97 L90.33,135.04 L91.28,135.12 L92.23,135.21 L93.19,135.30 L94.14,135.40 L95.10,135.50 L96.05,135.62 L97.01,135.74 L97.96,135.87 L98.92,136.00 L99.87,136.15 L100.83,136.30 L101.78,136.45 L102.74,136.62 L103.69,136.79 L104.64,136.96 L105.60,137.15 L106.55,137.34 L107.51,137.53 L108.46,137.74 L109.42,137.94 L110.37,138.16 L111.33,138.38 L112.28,138.61 L113.24,138.84 L114.19,139.08 L115.15,139.32 L116.10,139.57 L117.05,139.83 L118.01,140.09 L118.96,140.35 L119.92,140.62 L120.87,140.90 L121.83,141.18 L122.78,141.47 L123.74,141.76 L124.69,142.05 L125.65,142.35 L126.60,142.65 L127.56,142.96 L128.51,143.27 L129.46,143.58 L130.42,143.90 L131.37,144.22 L132.33,144.55 L133.28,144.88 L134.24,145.21 L135.19,145.54 L136.15,145.88 L137.10,146.22 L138.06,146.56 L139.01,146.91 L139.97,147.25 L140.92,147.60 L141.87,147.95 L142.83,148.31 L143.78,148.66 L144.74,149.02 L145.69,149.37 L146.65,149.73 L147.60,150.09 L148.56,150.45 L149.51,150.81 L150.47,151.17 L151.42,151.53 L152.38,151.89 L153.33,152.25 L154.29,152.61 L155.24,152.97 L156.19,153.33 L157.15,153.69 L158.10,154.04 L159.06,154.40 L160.01,154.76 L160.97,155.11 L161.92,155.46 L162.88,155.82 L163.83,156.17 L164.79,156.51 L165.74,156.86 L166.70,157.20 L167.65,157.54 L168.60,157.88 L169.56,158.22 L170.51,158.55 L171.47,158.88 L172.42,159.20 L173.38,159.53 L174.33,159.85 L175.29,160.16 L176.24,160.48 L177.20,160.78 L178.15,161.09 L179.11,161.39 L180.06,161.69 L181.01,161.98 L181.97,162.26 L182.92,162.55 L183.88,162.82 L184.83,163.10 L185.79,163.37 L186.74,163.63 L187.70,163.89 L188.65,164.14 L189.61,164.38 L190.56,164.62 L191.52,164.86 L192.47,165.09 L193.42,165.31 L194.38,165.53 L195.33,165.74 L196.29,165.95 L197.24,166.15 L198.20,166.34 L199.15,166.52 L200.11,166.70 L201.06,166.88 L202.02,167.04 L202.97,167.20 L203.93,167.35 L204.88,167.50 L205.83,167.64 L206.79,167.77 L207.74,167.89 L208.70,168.01 L209.65,168.12 L210.61,168.22 L211.56,168.32 L212.52,168.41 L213.47,168.49 L214.43,168.56 L215.38,168.63 L216.34,168.68 L217.29,168.73 L218.24,168.78 L219.20,168.81 L220.15,168.84 L221.11,168.86 L222.06,168.87 L223.02,168.88 L223.97,168.88 L224.93,168.87 L225.88,168.85 L226.84,168.82 L227.79,168.79 L228.75,168.75 L229.70,168.70 L230.65,168.65 L231.61,168.59 L232.56,168.52 L233.52,168.44 L234.47,168.35 L235.43,168.26 L236.38,168.16 L237.34,168.05 L238.29,167.94 L239.25,167.82 L240.20,167.69 L241.16,167.55 L242.11,167.41 L243.07,167.26 L244.02,167.10 L244.97,166.94 L245.93,166.77 L246.88,166.59 L247.84,166.41 L248.79,166.22 L249.75,166.02 L250.70,165.82 L251.66,165.61 L252.61,165.40 L253.57,165.18 L254.52,164.95 L255.48,164.72 L256.43,164.48 L257.38,164.23 L258.34,163.98 L259.29,163.73 L260.25,163.47 L261.20,163.20 L262.16,162.93 L263.11,162.65 L264.07,162.37 L265.02,162.09 L265.98,161.80 L266.93,161.50 L267.89,161.20 L268.84,160.90 L269.79,160.59 L270.75,160.28 L271.70,159.97 L272.66,159.65 L273.61,159.33 L274.57,159.00 L275.52,158.67 L276.48,158.34 L277.43,158.01 L278.39,157.67 L279.34,157.33 L280.30,156.99 L281.25,156.64 L282.20,156.30 L283.16,155.95 L284.11,155.60 L285.07,155.25 L286.02,154.89 L286.98,154.54 L287.93,154.18 L288.89,153.82 L289.84,153.46 L290.80,153.11 L291.75,152.75 L292.71,152.39 L293.66,152.03 L294.61,151.66 L295.57,151.30 L296.52,150.94 L297.48,150.58 L298.43,150.22 L299.39,149.87 L300.34,149.51 L301.30,149.15 L302.25,148.80 L303.21,148.44 L304.16,148.09 L305.12,147.74 L306.07,147.39 L307.02,147.04 L307.98,146.69 L308.93,146.35 L309.89,146.01 L310.84,145.67 L311.80,145.34 L312.75,145.00 L313.71,144.67 L314.66,144.35 L315.62,144.03 L316.57,143.71 L317.53,143.39 L318.48,143.08 L319.43,142.77 L320.39,142.46 L321.34,142.16 L322.30,141.87 L323.25,141.58 L324.21,141.29 L325.16,141.01 L326.12,140.73 L327.07,140.46 L328.03,140.19 L328.98,139.93 L329.94,139.67 L330.89,139.42 L331.85,139.17 L332.80,138.93 L333.75,138.70 L334.71,138.47 L335.66,138.24 L336.62,138.03 L337.57,137.81 L338.53,137.61 L339.48,137.41 L340.44,137.22 L341.39,137.03 L342.35,136.85 L343.30,136.68 L344.26,136.51 L345.21,136.36 L346.16,136.20 L347.12,136.06 L348.07,135.92 L349.03,135.79 L349.98,135.66 L350.94,135.55 L351.89,135.44 L352.85,135.34 L353.80,135.24 L354.76,135.15 L355.71,135.07 L356.67,135.00 L357.62,134.93 L358.57,134.88 L359.53,134.82 L360.48,134.78 L361.44,134.75 L362.39,134.72 L363.35,134.70 L364.30,134.69 L365.26,134.68 L366.21,134.68 L367.17,134.69 L368.12,134.71 L369.08,134.74 L370.03,134.77 L370.98,134.81 L371.94,134.86 L372.89,134.91 L373.85,134.98 L374.80,135.05 L375.76,135.12 L376.71,135.21 L377.67,135.30 L378.62,135.40 L379.58,135.51 L380.53,135.62 L381.49,135.75 L382.44,135.87 L383.39,136.01 L384.35,136.15 L385.30,136.30 L386.26,136.46 L387.21,136.62 L388.17,136.79 L389.12,136.97 L390.08,137.15 L391.03,137.34 L391.99,137.54 L392.94,137.74 L393.90,137.95 L394.85,138.17 L395.80,138.39 L396.76,138.62 L397.71,138.85 L398.67,139.09 L399.62,139.33 L400.58,139.58 L401.53,139.84 L402.49,140.10 L403.44,140.37 L404.40,140.64 L405.35,140.91 L406.31,141.19 L407.26,141.48 L408.21,141.77 L409.17,142.06 L410.12,142.36 L411.08,142.67 L412.03,142.97 L412.99,143.28 L413.94,143.60 L414.90,143.92 L415.85,144.24 L416.81,144.56 L417.76,144.89 L418.72,145.22 L419.67,145.56 L420.63,145.90 L421.58,146.24 L422.53,146.58 L423.49,146.92 L424.44,147.27 L425.40,147.62 L426.35,147.97 L427.31,148.32 L428.26,148.67 L429.22,149.03 L430.17,149.39 L431.13,149.74 L432.08,150.10 L433.04,150.46 L433.99,150.82 L434.94,151.18 L435.90,151.54 L436.85,151.90 L437.81,152.26 L438.76,152.62 L439.72,152.98 L440.67,153.34 L441.63,153.70 L442.58,154.06 L443.54,154.42 L444.49,154.77 L445.45,155.13 L446.40,155.48 L447.35,155.83 L448.31,156.18 L449.26,156.53 L450.22,156.87 L451.17,157.22 L452.13,157.56 L453.08,157.89 L454.04,158.23 L454.99,158.56 L455.95,158.89 L456.90,159.22 L457.86,159.54 L458.81,159.86 L459.76,160.18 L460.72,160.49 L461.67,160.80 L462.63,161.10 L463.58,161.40 L464.54,161.70 L465.49,161.99 L466.45,162.28 L467.40,162.56 L468.36,162.84 L469.31,163.11 L470.27,163.38 L471.22,163.64 L472.17,163.90 L473.13,164.15 L474.08,164.39 L475.04,164.63 L475.99,164.87 L476.95,165.10 L477.90,165.32 L478.86,165.54 L479.81,165.75 L480.77,165.95 L481.72,166.15 L482.68,166.35 L483.63,166.53 L484.58,166.71 L485.54,166.88 L486.49,167.05 L487.45,167.21 L488.40,167.36 L489.36,167.50 L490.31,167.64 L491.27,167.77 L492.22,167.90 L493.18,168.01 L494.13,168.12 L495.09,168.23 L496.04,168.32 L496.99,168.41 L497.95,168.49 L498.90,168.56 L499.86,168.63 L500.81,168.69 L501.77,168.74 L502.72,168.78 L503.68,168.81 L504.63,168.84 L505.59,168.86 L506.54,168.87 L507.50,168.88 L508.45,168.88 L509.41,168.87 L510.36,168.85 L511.31,168.82 L512.27,168.79 L513.22,168.75 L514.18,168.70 L515.13,168.65 L516.09,168.58 L517.04,168.51 L518.00,168.43 L518.95,168.35 L519.91,168.26 L520.86,168.16 L521.82,168.05 L522.77,167.93 L523.72,167.81 L524.68,167.68 L525.63,167.55 L526.59,167.40 L527.54,167.25 L528.50,167.10 L529.45,166.93 L530.41,166.76 L531.36,166.59 L532.32,166.40 L533.27,166.21 L534.23,166.01 L535.18,165.81 L536.13,165.60 L537.09,165.39 L538.04,165.17 L539.00,164.94 L539.95,164.71 L540.91,164.47 L541.86,164.22 L542.82,163.97 L543.77,163.72 L544.73,163.45 L545.68,163.19 L546.64,162.92 L547.59,162.64 L548.54,162.36 L549.50,162.08 L550.45,161.78 L551.41,161.49 L552.36,161.19 L553.32,160.89 L554.27,160.58 L555.23,160.27 L556.18,159.96 L557.14,159.64 L558.09,159.31 L559.05,158.99 L560.00,158.66 L560.95,158.33 L561.91,157.99 L562.86,157.66 L563.82,157.32 L564.77,156.97 L565.73,156.63 L566.68,156.28 L567.64,155.93 L568.59,155.58 L569.55,155.23 L570.50,154.88 L571.46,154.52 L572.41,154.17 L573.36,153.81 L574.32,153.45 L575.27,153.09 L576.23,152.73 L577.18,152.37 L578.14,152.01 L579.09,151.65 L580.05,151.29 L581.00,150.93 L581.96,150.57 L582.91,150.21 L583.87,149.85 L584.82,149.49 L585.77,149.14 L586.73,148.78 L587.68,148.43 L588.64,148.07 L589.59,147.72 L590.55,147.37 L591.50,147.03 L592.46,146.68 L593.41,146.34 L594.37,146.00 L595.32,145.66 L596.28,145.32 L597.23,144.99 L598.19,144.66 L599.14,144.33 L600.09,144.01 L601.05,143.69 L602.00,143.38 L602.96,143.06 L603.91,142.76 L604.87,142.45 L605.82,142.15 L606.78,141.86 L607.73,141.56 L608.69,141.28 L609.64,141.00 L610.60,140.72 L611.55,140.45 L612.50,140.18 L613.46,139.92 L614.41,139.66 L615.37,139.41 L616.32,139.16 L617.28,138.92 L618.23,138.69 L619.19,138.46 L620.14,138.23 L621.10,138.02 L622.05,137.81 L623.01,137.60 L623.96,137.40 L624.91,137.21 L625.87,137.02 L626.82,136.85 L627.78,136.67 L628.73,136.51 L629.69,136.35 L630.64,136.20 L631.60,136.05 L632.55,135.91 L633.51,135.78 L634.46,135.66 L635.42,135.54 L636.37,135.43 L637.32,135.33 L638.28,135.24 L639.23,135.15 L640.19,135.07 L641.14,135.00 L642.10,134.93 L643.05,134.87 L644.01,134.82 L644.96,134.78 L645.92,134.74 L646.87,134.72 L647.83,134.70 L648.78,134.68 L649.73,134.68 L650.69,134.68 L651.64,134.69 L652.60,134.71 L653.55,134.74 L654.51,134.77 L655.46,134.81 L656.42,134.86 L657.37,134.92 L658.33,134.98 L659.28,135.05 L660.24,135.13 L661.19,135.21 L662.14,135.31 L663.10,135.41 L664.05,135.51 L665.01,135.63 L665.96,135.75 L666.92,135.88 L667.87,136.02 L668.83,136.16 L669.78,136.31 L670.74,136.47 L671.69,136.63 L672.65,136.80 L673.60,136.98 L674.56,137.16 L675.51,137.35 L676.46,137.55 L677.42,137.75 L678.37,137.96 L679.33,138.18 L680.28,138.40 L681.24,138.63 L682.19,138.86 L683.15,139.10 L684.10,139.34 L685.06,139.59 L686.01,139.85 L686.97,140.11 L687.92,140.38 L688.87,140.65 L689.83,140.92 L690.78,141.21 L691.74,141.49 L692.69,141.78 L693.65,142.08 L694.60,142.37 L695.56,142.68 L696.51,142.99 L697.47,143.30 L698.42,143.61 L699.38,143.93 L700.33,144.25 L701.28,144.58 L702.24,144.91 L703.19,145.24 L704.15,145.57 L705.10,145.91 L706.06,146.25 L707.01,146.59 L707.97,146.94 L708.92,147.28 L709.88,147.63 L710.83,147.98 L711.79,148.34 L712.74,148.69 L713.69,149.05 L714.65,149.40 L715.60,149.76 L716.56,150.12 L717.51,150.48 L718.47,150.84 L719.42,151.20 L720.38,151.56 L721.33,151.92 L722.29,152.28 L723.24,152.64 L724.20,153.00 L725.15,153.36 L726.10,153.72 L727.06,154.07 L728.01,154.43 L728.97,154.79 L729.92,155.14 L730.88,155.49 L731.83,155.85 L732.79,156.19 L733.74,156.54 L734.70,156.89 L735.65,157.23 L736.61,157.57 L737.56,157.91 L738.51,158.24 L739.47,158.58 L740.42,158.91 L741.38,159.23 L742.33,159.55 L743.29,159.87 L744.24,160.19 L745.20,160.50 L746.15,160.81 L747.11,161.11 L748.06,161.41 L749.02,161.71 L749.97,162.00 L750.92,162.29 L751.88,162.57 L752.83,162.85 L753.79,163.12 L754.74,163.39 L755.70,163.65 L756.65,163.91 L757.61,164.16 L758.56,164.40 L759.52,164.64 L760.47,164.88 L761.43,165.11 L762.38,165.33 L763.34,165.55 L764.29,165.76 L765.24,165.96 L766.20,166.16 L767.15,166.35 L768.11,166.54 L769.06,166.72 L770.02,166.89 L770.97,167.06 L771.93,167.21 L772.88,167.37 L773.84,167.51 L774.79,167.65 L775.75,167.78 L776.70,167.90 L777.65,168.02 L778.61,168.13 L779.56,168.23 L780.52,168.33 L781.47,168.41 L782.43,168.49 L783.38,168.57 L784.34,168.63 L785.29,168.69 L786.25,168.74 L787.20,168.78 L788.16,168.82 L789.11,168.84 L790.06,168.86 L791.02,168.88 L791.97,168.88 L792.93,168.88 L793.88,168.87 L794.84,168.85 L795.79,168.82 L796.75,168.79 L797.70,168.75 L798.66,168.70 L799.61,168.64 L800.57,168.58 L801.52,168.51 L802.47,168.43 L803.43,168.34 L804.38,168.25 L805.34,168.15 L806.29,168.04 L807.25,167.93 L808.20,167.81 L809.16,167.68 L810.11,167.54 L811.07,167.40 L812.02,167.25 L812.98,167.09 L813.93,166.93 L814.88,166.75 L815.84,166.58 L816.79,166.39 L817.75,166.20 L818.70,166.01 L819.66,165.80 L820.61,165.59 L821.57,165.38 L822.52,165.16 L823.48,164.93 L824.43,164.70 L825.39,164.46 L826.34,164.21 L827.29,163.96 L828.25,163.70 L829.20,163.44 L830.16,163.18 L831.11,162.91 L832.07,162.63 L833.02,162.35 L833.98,162.06 L834.93,161.77 L835.89,161.48 L836.84,161.18 L837.80,160.88 L838.75,160.57 L839.70,160.26 L840.66,159.94 L841.61,159.62 L842.57,159.30 L843.52,158.98 L844.48,158.65 L845.43,158.31 L846.39,157.98 L847.34,157.64 L848.30,157.30 L849.25,156.96 L850.21,156.62 L851.16,156.27 L852.12,155.92 L853.07,155.57 L854.02,155.22 L854.98,154.86 L855.93,154.51 L856.89,154.15 L857.84,153.79 L858.80,153.43 L859.75,153.08 L860.71,152.72 L861.66,152.36 L862.62,151.99 L863.57,151.63 L864.53,151.27 L865.48,150.91 L866.43,150.55 L867.39,150.19 L868.34,149.84 L869.30,149.48 L870.25,149.12 L871.21,148.77 L872.16,148.41 L873.12,148.06 L874.07,147.71 L875.03,147.36 L875.98,147.01 L876.94,146.67 L877.89,146.32 L878.84,145.98 L879.80,145.64 L880.75,145.31 L881.71,144.98 L882.66,144.65 L883.62,144.32 L884.57,144.00 L885.53,143.68 L886.48,143.36 L887.44,143.05 L888.39,142.74 L889.35,142.44 L890.30,142.14 L891.25,141.84 L892.21,141.55 L893.16,141.27 L894.12,140.98 L895.07,140.71 L896.03,140.43 L896.98,140.17 L897.94,139.90 L898.89,139.65 L899.85,139.40 L900.80,139.15 L901.76,138.91 L902.71,138.68 L903.66,138.45 L904.62,138.22 L905.57,138.01 L906.53,137.80 L907.48,137.59 L908.44,137.39 L909.39,137.20 L910.35,137.02 L911.30,136.84 L912.26,136.67 L913.21,136.50 L914.17,136.34 L915.12,136.19 L916.07,136.05 L917.03,135.91 L917.98,135.78 L918.94,135.65 L919.89,135.54 L920.85,135.43 L921.80,135.33 L922.76,135.23 L923.71,135.15 L924.67,135.07 L925.62,134.99 L926.58,134.93 L927.53,134.87 L928.48,134.82 L929.44,134.78 L930.39,134.74 L931.35,134.72 L932.30,134.70 L933.26,134.68 L934.21,134.68 L935.17,134.68 L936.12,134.69 L937.08,134.71 L938.03,134.74 L938.99,134.77 L939.94,134.81 L940.90,134.86 L941.85,134.92 L942.80,134.98 L943.76,135.05 L944.71,135.13 L945.67,135.22 L946.62,135.31 L947.58,135.41 L948.53,135.52 L949.49,135.63 L950.44,135.76 L951.40,135.89 L952.35,136.02 L953.31,136.17 L954.26,136.32 L955.21,136.47 L956.17,136.64 L957.12,136.81 L958.08,136.99 L959.03,137.17 L959.99,137.36 L960.94,137.56 L961.90,137.76 L962.85,137.97 L963.81,138.19 L964.76,138.41 L965.72,138.64 L966.67,138.87 L967.62,139.11 L968.58,139.35 L969.53,139.60 L970.49,139.86 L971.44,140.12 L972.40,140.39 L973.35,140.66 L974.31,140.94 L975.26,141.22 L976.22,141.50 L977.17,141.79 L978.13,142.09 L979.08,142.39 L980.03,142.69 L980.99,143.00 L981.94,143.31 L982.90,143.63 L983.85,143.94 L984.81,144.27 L985.76,144.59 L986.72,144.92 L987.67,145.25 L988.63,145.59 L989.58,145.92 L990.54,146.26 L991.49,146.61 L992.44,146.95 L993.40,147.30 L994.35,147.65 L995.31,148.00 L996.26,148.35 L997.22,148.70 L998.17,149.06 L999.13,149.42 L1000.08,149.77 L1001.04,150.13 L1001.99,150.49 L1002.95,150.85 L1003.90,151.21 L1004.85,151.57 L1005.81,151.93 L1006.76,152.29 L1007.72,152.65 L1008.67,153.01 L1009.63,153.37 L1010.58,153.73 L1011.54,154.09 L1012.49,154.45 L1013.45,154.80 L1014.40,155.16 L1015.36,155.51 L1016.31,155.86 L1017.26,156.21 L1018.22,156.56 L1019.17,156.90 L1020.13,157.24 L1021.08,157.59 L1022.04,157.92 L1022.99,158.26 L1023.95,158.59 L1024.90,158.92 L1025.86,159.25 L1026.81,159.57 L1027.77,159.89 L1028.72,160.20 L1029.68,160.52 L1030.63,160.82 L1031.58,161.13 L1032.54,161.43 L1033.49,161.72 L1034.45,162.01 L1035.40,162.30 L1036.36,162.58 L1037.31,162.86 L1038.27,163.13 L1039.22,163.40 L1040.18,163.66 L1041.13,163.92 L1042.09,164.17 L1043.04,164.41 L1043.99,164.65 L1044.95,164.89 L1045.90,165.12 L1046.86,165.34 L1047.81,165.56 L1048.77,165.77 L1049.72,165.97 L1050.68,166.17 L1051.63,166.36 L1052.59,166.55 L1053.54,166.73 L1054.50,166.90 L1055.45,167.06 L1056.40,167.22 L1057.36,167.37 L1058.31,167.52 L1059.27,167.65 L1060.22,167.78 L1061.18,167.91 L1062.13,168.02 L1063.09,168.13 L1064.04,168.24 L1065.00,168.33 L1065.95,168.42 L1066.91,168.50 L1067.86,168.57 L1068.81,168.63 L1069.77,168.69 L1070.72,168.74 L1071.68,168.78 L1072.63,168.82 L1073.59,168.84 L1074.54,168.86 L1075.50,168.88 L1076.45,168.88 L1077.41,168.88 L1078.36,168.87 L1079.32,168.85 L1080.27,168.82 L1081.22,168.79 L1082.18,168.75 L1083.13,168.70 L1084.09,168.64 L1085.04,168.58 L1086.00,168.51 L1086.95,168.43 L1087.91,168.34 L1088.86,168.25 L1089.82,168.15 L1090.77,168.04 L1091.73,167.92 L1092.68,167.80 L1093.63,167.67 L1094.59,167.53 L1095.54,167.39 L1096.50,167.24 L1097.45,167.08 L1098.41,166.92 L1099.36,166.75 L1100.32,166.57 L1101.27,166.39 L1102.23,166.19 L1103.18,166.00 L1104.14,165.79 L1105.09,165.58 L1106.04,165.37 L1107.00,165.15 L1107.95,164.92 L1108.91,164.69 L1109.86,164.45 L1110.82,164.20 L1111.77,163.95 L1112.73,163.69 L1113.68,163.43 L1114.64,163.17 L1115.59,162.89 L1116.55,162.62 L1117.50,162.34 L1118.46,162.05 L1119.41,161.76 L1120.36,161.47 L1121.32,161.17 L1122.27,160.86 L1123.23,160.55 L1124.18,160.24 L1125.14,159.93 L1126.09,159.61 L1127.05,159.29 L1128.00,158.96 L1128.96,158.63 L1129.91,158.30 L1130.87,157.97 L1131.82,157.63 L1132.77,157.29 L1133.73,156.95 L1134.68,156.60 L1135.64,156.25 L1136.59,155.90 L1137.55,155.55 L1138.50,155.20 L1139.46,154.85 L1140.41,154.49 L1141.37,154.14 L1142.32,153.78 L1143.28,153.42 L1144.23,153.06 L1145.18,152.70 L1146.14,152.34 L1147.09,151.98 L1148.05,151.62 L1149.00,151.26 L1149.96,150.90 L1150.91,150.54 L1151.87,150.18 L1152.82,149.82 L1153.78,149.46 L1154.73,149.11 L1155.69,148.75 L1156.64,148.40 L1157.59,148.04 L1158.55,147.69 L1159.50,147.34 L1160.46,147.00 L1161.41,146.65 L1162.37,146.31 L1163.32,145.97 L1164.28,145.63 L1165.23,145.29 L1166.19,144.96 L1167.14,144.63 L1168.10,144.31 L1169.05,143.98 L1170.00,143.67 L1170.96,143.35 L1171.91,143.04 L1172.87,142.73 L1173.82,142.43 L1174.78,142.13 L1175.73,141.83 L1176.69,141.54 L1177.64,141.25 L1178.60,140.97 L1179.55,140.69 L1180.51,140.42 L1181.46,140.16 L1182.41,139.89 L1183.37,139.64 L1184.32,139.39 L1185.28,139.14 L1186.23,138.90 L1187.19,138.67 L1188.14,138.44 L1189.10,138.21 L1190.05,138.00 L1191.01,137.79 L1191.96,137.58 L1192.92,137.39 L1193.87,137.19 L1194.82,137.01 L1195.78,136.83 L1196.73,136.66 L1197.69,136.49 L1198.64,136.34 L1199.60,136.18 L1200.55,136.04 L1201.51,135.90 L1202.46,135.77 L1203.42,135.65 L1204.37,135.53 L1205.33,135.42 L1206.28,135.32 L1207.24,135.23 L1208.19,135.14 L1209.14,135.06 L1210.10,134.99 L1211.05,134.93 L1212.01,134.87 L1212.96,134.82 L1213.92,134.78 L1214.87,134.74 L1215.83,134.72 L1216.78,134.70 L1217.74,134.68 L1218.69,134.68 L1219.65,134.68 L1220.60,134.69 L1221.55,134.71 L1222.51,134.74 L1223.46,134.77 L1224.42,134.81 L1225.37,134.86 L1226.33,134.92 L1227.28,134.98 L1228.24,135.06 L1229.19,135.13 L1230.15,135.22 L1231.10,135.31 L1232.06,135.42 L1233.01,135.52 L1233.96,135.64" fill="none" stroke="#a6a6a6" stroke-width="2.2" stroke-dasharray="6 2"/>
<path d="M86.60,371.20 L88.20,370.20 L90.10,371.48 L92.00,373.20 L93.70,374.00 L94.20,379.00 L96.00,377.50 L98.30,377.50 L100.50,376.00 L101.95,375.63 L103.40,374.40 L105.50,375.30 L107.00,374.66 L108.50,374.40 L110.05,375.23 L111.60,376.60 L114.00,375.20 L115.50,374.68 L117.00,375.55 L118.50,376.00 L120.25,376.15 L122.00,374.40 L123.50,375.36 L125.00,375.60 L127.60,376.20 L128.40,378.70 L130.00,376.50 L131.10,376.00 L132.57,376.51 L134.03,375.48 L135.50,374.90 L137.00,375.60 L138.50,375.79 L140.00,376.00 L141.47,375.32 L142.93,378.19 L144.40,378.20 L146.60,375.50 L148.28,375.93 L149.95,375.92 L151.62,374.06 L153.30,375.50 L154.98,373.74 L156.65,374.19 L158.32,374.28 L160.00,374.40 L161.47,374.29 L162.93,373.63 L164.40,373.30 L165.87,373.61 L167.33,372.49 L168.80,372.90 L170.48,372.99 L172.15,372.89 L173.82,371.81 L175.50,372.20 L176.60,376.20 L178.30,376.46 L180.00,373.80 L181.47,373.97 L182.93,374.22 L184.40,372.90 L185.87,372.87 L187.33,373.27 L188.80,374.40 L191.00,369.30 L193.30,373.30 L194.77,371.37 L196.23,369.94 L197.70,368.40 L199.35,370.29 L201.00,371.10 L202.70,369.96 L204.40,368.40 L206.05,367.69 L207.70,366.94 L209.35,366.98 L211.00,367.10 L212.70,367.69 L214.40,366.20 L216.60,360.40 L218.43,359.41 L220.27,360.01 L222.10,359.50 L223.78,359.54 L225.45,357.58 L227.12,358.57 L228.80,358.20 L230.60,357.80 L232.10,365.50 L233.80,367.41 L235.50,367.10 L237.15,364.99 L238.80,366.03 L240.45,365.81 L242.10,365.50 L243.78,364.11 L245.45,364.52 L247.12,363.35 L248.80,362.70 L250.27,361.16 L251.73,362.80 L253.20,361.80 L254.70,363.10 L256.20,364.07 L257.70,364.00 L259.35,365.60 L261.00,365.06 L262.65,365.23 L264.30,365.50 L265.89,364.08 L267.47,365.39 L269.06,364.04 L270.64,363.86 L272.23,362.85 L273.81,362.79 L275.40,363.30 L277.07,363.57 L278.75,365.85 L280.43,363.75 L282.10,366.20 L283.57,363.99 L285.03,364.47 L286.50,363.30 L288.00,365.63 L289.50,365.99 L291.00,366.60 L292.47,364.12 L293.93,362.73 L295.40,364.00 L297.07,365.08 L298.75,364.92 L300.43,365.37 L302.10,367.10 L303.58,367.11 L305.07,366.40 L306.55,364.78 L308.03,364.04 L309.52,363.39 L311.00,362.20 L312.47,363.85 L313.93,363.33 L315.40,363.54 L316.87,363.87 L318.33,362.37 L319.80,364.00 L321.48,365.31 L323.15,365.26 L324.82,365.13 L326.50,364.90 L327.98,363.51 L329.47,364.93 L330.95,366.47 L332.43,364.49 L333.92,366.16 L335.40,366.60 L336.99,368.04 L338.57,366.63 L340.16,369.68 L341.74,369.35 L343.33,369.33 L344.91,370.30 L346.50,370.60 L347.97,370.59 L349.43,369.57 L350.90,368.90 L352.30,370.97 L353.70,370.54 L355.10,371.85 L356.50,373.30 L358.06,374.29 L359.62,373.52 L361.18,372.85 L362.74,374.50 L364.30,373.80 L365.95,375.37 L367.60,374.07 L369.25,373.60 L370.90,375.10 L372.50,375.07 L374.10,375.13 L375.70,375.09 L377.30,376.61 L378.90,375.50 L380.53,375.53 L382.17,378.37 L383.80,378.20 L385.50,373.30 L386.90,373.05 L388.30,374.28 L389.70,376.31 L391.10,376.60 L392.75,376.81 L394.40,375.10 L396.07,375.83 L397.75,375.39 L399.43,375.22 L401.10,375.10 L402.66,375.23 L404.22,375.59 L405.78,374.95 L407.34,375.34 L408.90,375.10 L410.40,379.30 L412.40,378.79 L414.40,377.30 L416.07,376.85 L417.75,377.05 L419.43,376.43 L421.10,375.50 L422.57,378.11 L424.03,377.58 L425.50,378.20 L427.00,377.30 L428.50,376.82 L430.00,376.60 L431.65,377.31 L433.30,378.84 L434.95,378.49 L436.60,379.50 L438.10,379.83 L439.60,381.06 L441.10,379.50 L442.57,376.35 L444.03,376.61 L445.50,376.60 L447.18,376.53 L448.85,376.39 L450.52,375.98 L452.20,375.50 L453.85,374.48 L455.50,374.76 L457.15,373.79 L458.80,372.90 L460.48,372.28 L462.15,374.62 L463.82,372.68 L465.50,372.20 L467.33,371.20 L469.17,371.05 L471.00,370.60 L472.80,365.50 L474.40,371.10 L476.05,370.23 L477.70,369.70 L479.35,366.76 L481.00,368.40 L482.50,367.55 L484.00,368.39 L485.50,367.10 L486.97,366.34 L488.43,367.51 L489.90,367.80 L492.10,370.60 L494.40,364.40 L496.05,364.21 L497.70,363.13 L499.35,362.67 L501.00,360.40 L502.50,358.82 L504.00,359.83 L505.50,360.00 L507.15,360.16 L508.80,361.43 L510.45,362.28 L512.10,361.80 L514.30,361.30 L515.50,367.10 L517.33,364.09 L519.17,366.56 L521.00,364.90 L522.48,363.40 L523.97,364.95 L525.45,362.83 L526.93,363.98 L528.42,364.58 L529.90,363.30 L531.37,362.67 L532.83,362.46 L534.30,361.80 L535.80,363.21 L537.30,363.39 L538.80,364.00 L540.28,363.81 L541.77,365.07 L543.25,364.54 L544.73,363.28 L546.22,365.75 L547.70,363.30 L549.35,362.73 L551.00,364.88 L552.65,364.27 L554.30,364.90 L555.89,364.70 L557.47,364.87 L559.06,364.15 L560.64,364.19 L562.23,362.03 L563.81,361.73 L565.40,362.70 L567.08,363.55 L568.75,362.53 L570.42,362.80 L572.10,364.00 L573.58,362.82 L575.07,365.21 L576.55,364.83 L578.03,365.52 L579.52,363.54 L581.00,364.40 L582.65,365.30 L584.30,366.20 L585.97,364.51 L587.65,365.40 L589.33,365.38 L591.00,363.30 L592.65,363.64 L594.30,365.50 L595.89,366.51 L597.47,365.71 L599.06,364.41 L600.64,362.57 L602.23,365.12 L603.81,363.53 L605.40,363.30 L606.99,362.73 L608.57,363.53 L610.16,363.48 L611.74,364.34 L613.33,362.15 L614.91,363.92 L616.50,362.90 L617.97,364.66 L619.43,365.13 L620.90,364.40 L622.58,365.10 L624.25,365.47 L625.92,367.82 L627.60,367.80 L629.07,366.93 L630.53,365.97 L632.00,364.90 L633.50,367.08 L635.00,366.61 L636.50,367.80 L637.97,366.58 L639.43,368.94 L640.90,370.00 L642.38,368.79 L643.87,371.43 L645.35,371.37 L646.83,370.95 L648.32,371.83 L649.80,372.20 L651.30,373.14 L652.80,372.73 L654.30,372.90 L655.77,374.76 L657.23,374.31 L658.70,375.10 L660.17,375.55 L661.63,375.50 L663.10,373.80 L664.60,375.37 L666.10,373.63 L667.60,374.40 L669.35,374.40 L671.10,372.90 L672.75,372.06 L674.40,374.40 L676.70,377.80 L678.17,376.11 L679.63,374.60 L681.10,375.50 L682.75,377.31 L684.40,377.30 L686.10,376.50 L687.80,377.80 L689.20,375.54 L690.60,373.30 L692.50,375.14 L694.40,377.30 L695.50,377.80 L698.20,380.40 L700.00,368.90 L701.80,370.00 L703.30,373.80 L704.95,373.33 L706.60,372.90 L708.40,371.10 L710.03,372.43 L711.67,374.97 L713.30,376.60 L714.77,378.66 L716.23,377.70 L717.70,378.20 L719.20,378.35 L720.70,378.45 L722.20,377.30 L723.67,376.53 L725.13,375.03 L726.60,375.50 L728.10,375.93 L729.60,378.21 L731.10,378.20 L732.93,375.17 L734.77,374.43 L736.60,373.30 L738.00,374.61 L739.40,374.87 L740.80,374.66 L742.20,375.10 L743.85,375.98 L745.50,375.50 L746.97,376.97 L748.43,377.16 L749.90,379.50 L751.60,376.17 L753.30,375.50 L754.77,376.29 L756.23,378.95 L757.70,379.50 L759.35,377.57 L761.00,376.60 L763.30,376.60 L764.80,361.80 L766.20,368.40 L767.80,367.43 L769.40,367.34 L771.00,367.80 L772.67,366.50 L774.35,367.70 L776.03,366.80 L777.70,367.80 L779.57,367.58 L781.43,364.73 L783.30,366.20 L784.40,364.00 L786.05,364.38 L787.70,363.65 L789.35,362.65 L791.00,364.40 L792.50,364.45 L794.00,363.03 L795.50,362.70 L797.15,361.13 L798.80,362.61 L800.45,363.92 L802.10,364.00 L803.60,363.01 L805.10,363.46 L806.60,362.20 L808.43,362.70 L810.27,362.50 L812.10,361.80 L813.80,364.73 L815.50,367.10 L817.15,368.23 L818.80,367.10 L820.45,366.11 L822.10,364.00 L823.77,363.66 L825.45,360.78 L827.12,362.59 L828.80,361.10 L830.45,363.86 L832.10,364.40 L833.50,363.87 L834.90,363.45 L836.30,365.22 L837.70,363.30 L839.35,361.98 L841.00,364.05 L842.65,365.89 L844.30,364.00 L845.80,363.51 L847.30,365.19 L848.80,364.90 L851.00,361.80 L852.47,363.90 L853.93,362.70 L855.40,363.30 L857.08,363.95 L858.75,364.42 L860.42,363.06 L862.10,364.00 L863.57,364.22 L865.03,364.85 L866.50,364.90 L868.17,365.05 L869.85,363.77 L871.53,363.08 L873.20,362.70 L874.88,361.71 L876.55,362.14 L878.23,363.08 L879.90,362.20 L881.55,362.96 L883.20,362.82 L884.85,363.51 L886.50,364.90 L887.90,366.32 L889.30,364.17 L890.70,362.89 L892.10,361.50 L893.93,359.90 L895.77,363.23 L897.60,363.30 L899.27,363.43 L900.95,364.18 L902.62,362.84 L904.30,362.20 L905.95,361.69 L907.60,361.74 L909.25,359.20 L910.90,360.40 L912.58,361.05 L914.25,360.23 L915.92,359.13 L917.60,359.50 L919.80,362.20 L921.47,364.73 L923.15,366.54 L924.83,365.21 L926.50,367.80 L927.97,367.97 L929.43,369.51 L930.90,370.00 L932.30,371.11 L933.70,371.56 L935.10,372.02 L936.50,373.80 L938.70,368.40 L940.57,370.37 L942.43,369.62 L944.30,368.90 L945.72,368.31 L947.15,368.61 L948.58,371.62 L950.00,370.60 L951.47,371.24 L952.93,371.75 L954.40,370.00 L955.90,370.69 L957.40,369.26 L958.90,370.00 L960.55,372.42 L962.20,374.40 L964.40,373.30 L965.90,371.83 L967.40,373.40 L968.90,374.40 L970.37,375.08 L971.83,376.31 L973.30,376.60 L974.80,374.88 L976.30,374.29 L977.80,373.30 L979.45,373.94 L981.10,373.80 L982.57,374.55 L984.03,375.21 L985.50,375.10 L986.90,376.05 L988.30,376.37 L989.70,378.10 L991.10,378.20 L992.93,378.48 L994.77,377.96 L996.60,378.90 L998.10,378.57 L999.60,379.30 L1001.10,379.50 L1002.75,380.21 L1004.40,381.10 L1006.05,375.33 L1007.70,369.30 L1009.40,369.65 L1011.10,370.00 L1012.55,369.80 L1014.00,369.30 L1015.50,380.00 L1017.15,378.54 L1018.80,377.30 L1020.47,376.23 L1022.15,377.66 L1023.83,378.20 L1025.50,377.30 L1027.05,377.89 L1028.60,377.59 L1030.15,378.35 L1031.70,378.20 L1033.30,365.50 L1035.50,370.60 L1037.15,368.38 L1038.80,367.80 L1040.47,367.11 L1042.15,369.70 L1043.83,369.78 L1045.50,371.50 L1046.97,371.10 L1048.43,368.51 L1049.90,368.40 L1051.60,367.52 L1053.30,371.10 L1054.75,368.87 L1056.20,368.40 L1058.05,371.09 L1059.90,371.10 L1061.58,370.65 L1063.25,369.69 L1064.92,370.08 L1066.60,370.60 L1067.70,362.70 L1069.17,363.71 L1070.63,364.26 L1072.10,364.40 L1073.77,363.73 L1075.45,364.01 L1077.12,362.53 L1078.80,361.10 L1080.45,362.98 L1082.10,364.90 L1084.00,364.06 L1085.90,362.20 L1087.45,365.28 L1089.00,366.38 L1090.55,368.10 L1092.10,368.90 L1093.60,367.61 L1095.10,368.04 L1096.60,367.80 L1098.07,368.62 L1099.53,367.95 L1101.00,368.40 L1102.65,366.21 L1104.30,362.20 L1105.70,362.43 L1107.10,362.42 L1108.50,361.19 L1109.90,361.10 L1111.37,362.73 L1112.83,361.09 L1114.30,359.50 L1116.00,360.12 L1117.70,361.10 L1119.90,364.40 L1121.55,363.18 L1123.20,361.80 L1124.70,364.51 L1126.20,362.51 L1127.70,363.30 L1129.35,364.77 L1131.00,365.58 L1132.65,365.48 L1134.30,366.20 L1135.70,364.48 L1137.10,364.91 L1138.50,364.33 L1139.90,363.30 L1141.55,365.91 L1143.20,366.60 L1144.67,366.70 L1146.13,365.49 L1147.60,364.90 L1149.08,365.54 L1150.57,365.19 L1152.05,364.83 L1153.53,364.61 L1155.02,364.28 L1156.50,364.40 L1158.00,366.12 L1159.50,365.77 L1161.00,367.80 L1162.65,366.54 L1164.30,366.35 L1165.95,364.38 L1167.60,364.90 L1169.19,364.40 L1170.77,362.94 L1172.36,363.93 L1173.94,364.87 L1175.53,364.74 L1177.11,364.08 L1178.70,364.00 L1181.00,362.70 L1182.54,363.52 L1184.08,363.54 L1185.62,367.31 L1187.16,367.22 L1188.70,367.80 L1190.90,363.30 L1192.40,364.03 L1193.90,362.15 L1195.40,362.70 L1196.87,363.28 L1198.33,362.62 L1199.80,364.90 L1201.36,365.82 L1202.92,366.21 L1204.48,364.07 L1206.04,365.90 L1207.60,366.20 L1209.27,366.96 L1210.95,365.15 L1212.62,365.32 L1214.30,367.10 L1216.50,368.90 L1217.97,369.63 L1219.43,371.63 L1220.90,373.80 L1222.60,371.01 L1224.30,370.60 L1226.13,370.79 L1227.97,371.15 L1229.80,371.10 L1231.47,371.74 L1233.15,371.90 L1234.83,372.68 L1236.50,371.50 L1238.10,373.79 L1239.70,374.10" fill="none" stroke="#ff0000" stroke-width="1.1" stroke-linejoin="round"/>
<text x="49" y="95.7" font-size="11" text-anchor="end" fill="#000" stroke="#000" stroke-width="0.2" >2000</text>
<text x="49" y="124.7" font-size="11" text-anchor="end" fill="#000" stroke="#000" stroke-width="0.2" >1500</text>
<text x="49" y="152.7" font-size="11" text-anchor="end" fill="#000" stroke="#000" stroke-width="0.2" >1000</text>
<text x="49" y="181.7" font-size="11" text-anchor="end" fill="#000" stroke="#000" stroke-width="0.2" >500</text>
<text x="49" y="209.7" font-size="11" text-anchor="end" fill="#000" stroke="#000" stroke-width="0.2" >0</text>
<text x="1309" y="100.7" font-size="11" text-anchor="start" fill="#000" stroke="#000" stroke-width="0.2" >40</text>
<text x="1309" y="127.7" font-size="11" text-anchor="start" fill="#000" stroke="#000" stroke-width="0.2" >30</text>
<text x="1309" y="154.7" font-size="11" text-anchor="start" fill="#000" stroke="#000" stroke-width="0.2" >20</text>
<text x="1309" y="182.7" font-size="11" text-anchor="start" fill="#000" stroke="#000" stroke-width="0.2" >10</text>
<text x="1309" y="209.7" font-size="11" text-anchor="start" fill="#000" stroke="#000" stroke-width="0.2" >0</text>
<text x="47" y="320.7" font-size="11" text-anchor="end" fill="#000" stroke="#000" stroke-width="0.2" >200</text>
<text x="47" y="347.7" font-size="11" text-anchor="end" fill="#000" stroke="#000" stroke-width="0.2" >100</text>
<text x="47" y="374.7" font-size="11" text-anchor="end" fill="#000" stroke="#000" stroke-width="0.2" >0</text>
<text x="47" y="402.7" font-size="11" text-anchor="end" fill="#000" stroke="#000" stroke-width="0.2" >-100</text>
<text x="47" y="429.7" font-size="11" text-anchor="end" fill="#000" stroke="#000" stroke-width="0.2" >-200</text>
<text x="1315" y="320.7" font-size="11" text-anchor="start" fill="#000" stroke="#000" stroke-width="0.2" >4</text>
<text x="1315" y="347.7" font-size="11" text-anchor="start" fill="#000" stroke="#000" stroke-width="0.2" >2</text>
<text x="1315" y="374.7" font-size="11" text-anchor="start" fill="#000" stroke="#000" stroke-width="0.2" >0</text>
<text x="1315" y="402.7" font-size="11" text-anchor="start" fill="#000" stroke="#000" stroke-width="0.2" >-2</text>
<text x="1315" y="429.7" font-size="11" text-anchor="start" fill="#000" stroke="#000" stroke-width="0.2" >-4</text>
<text x="133.5" y="237" font-size="11" text-anchor="middle" fill="#000" stroke="#000" stroke-width="0.2" >4</text>
<text x="131.5" y="457" font-size="11" text-anchor="middle" fill="#000" stroke="#000" stroke-width="0.2" >4</text>
<text x="224.5" y="237" font-size="11" text-anchor="middle" fill="#000" stroke="#000" stroke-width="0.2" >6</text>
<text x="223.5" y="457" font-size="11" text-anchor="middle" fill="#000" stroke="#000" stroke-width="0.2" >6</text>
<text x="315.5" y="237" font-size="11" text-anchor="middle" fill="#000" stroke="#000" stroke-width="0.2" >8</text>
<text x="315.5" y="457" font-size="11" text-anchor="middle" fill="#000" stroke="#000" stroke-width="0.2" >8</text>
<text x="406.5" y="237" font-size="11" text-anchor="middle" fill="#000" stroke="#000" stroke-width="0.2" >10</text>
<text x="406.5" y="457" font-size="11" text-anchor="middle" fill="#000" stroke="#000" stroke-width="0.2" >10</text>
<text x="497.5" y="237" font-size="11" text-anchor="middle" fill="#000" stroke="#000" stroke-width="0.2" >12</text>
<text x="498.5" y="457" font-size="11" text-anchor="middle" fill="#000" stroke="#000" stroke-width="0.2" >12</text>
<text x="588.5" y="237" font-size="11" text-anchor="middle" fill="#000" stroke="#000" stroke-width="0.2" >14</text>
<text x="589.5" y="457" font-size="11" text-anchor="middle" fill="#000" stroke="#000" stroke-width="0.2" >14</text>
<text x="679.5" y="237" font-size="11" text-anchor="middle" fill="#000" stroke="#000" stroke-width="0.2" >16</text>
<text x="681.5" y="457" font-size="11" text-anchor="middle" fill="#000" stroke="#000" stroke-width="0.2" >16</text>
<text x="770.5" y="237" font-size="11" text-anchor="middle" fill="#000" stroke="#000" stroke-width="0.2" >18</text>
<text x="773.5" y="457" font-size="11" text-anchor="middle" fill="#000" stroke="#000" stroke-width="0.2" >18</text>
<text x="861.5" y="237" font-size="11" text-anchor="middle" fill="#000" stroke="#000" stroke-width="0.2" >20</text>
<text x="864.5" y="457" font-size="11" text-anchor="middle" fill="#000" stroke="#000" stroke-width="0.2" >20</text>
<text x="952.5" y="237" font-size="11" text-anchor="middle" fill="#000" stroke="#000" stroke-width="0.2" >22</text>
<text x="956.5" y="457" font-size="11" text-anchor="middle" fill="#000" stroke="#000" stroke-width="0.2" >22</text>
<text x="1043.5" y="237" font-size="11" text-anchor="middle" fill="#000" stroke="#000" stroke-width="0.2" >24</text>
<text x="1047.5" y="457" font-size="11" text-anchor="middle" fill="#000" stroke="#000" stroke-width="0.2" >24</text>
<text x="1134.5" y="237" font-size="11" text-anchor="middle" fill="#000" stroke="#000" stroke-width="0.2" >26</text>
<text x="1139.5" y="457" font-size="11" text-anchor="middle" fill="#000" stroke="#000" stroke-width="0.2" >26</text>
<text x="1225.5" y="237" font-size="11" text-anchor="middle" fill="#000" stroke="#000" stroke-width="0.2" >28</text>
<text x="1231.5" y="457" font-size="11" text-anchor="middle" fill="#000" stroke="#000" stroke-width="0.2" >28</text>
<text x="679.6" y="255" font-size="11" text-anchor="middle" fill="#000" stroke="#000" stroke-width="0.2" textLength="57.6" lengthAdjust="spacingAndGlyphs">Time (secs)</text>
<text x="681.5" y="475" font-size="11" text-anchor="middle" fill="#000" stroke="#000" stroke-width="0.2" textLength="57.8" lengthAdjust="spacingAndGlyphs">Time (secs)</text>
<text x="0" y="0" font-size="11" text-anchor="middle" fill="#000" stroke="#000" stroke-width="0.2" transform="translate(17.7,151.5) rotate(-90)">Pixels</text>
<text x="0" y="0" font-size="11" text-anchor="middle" fill="#000" stroke="#000" stroke-width="0.2" transform="translate(18.2,371.5) rotate(-90)">Pixels</text>
<text x="0" y="0" font-size="11" text-anchor="middle" fill="#000" stroke="#000" stroke-width="0.2" transform="translate(1333.6,150.5) rotate(90)">Degs</text>
<text x="0" y="0" font-size="11" text-anchor="middle" fill="#000" stroke="#000" stroke-width="0.2" transform="translate(1333.6,370.5) rotate(90)">Degs</text>
<text x="675.2" y="68.7" font-size="15.6" text-anchor="middle" fill="#000" textLength="297.5" lengthAdjust="spacingAndGlyphs">Horizontal target position and eye position</text>
<text x="675" y="288.7" font-size="15.6" text-anchor="middle" fill="#000" textLength="366.5" lengthAdjust="spacingAndGlyphs">Horizontal disparity between target and eye position</text>
<text x="59.8" y="29.7" font-size="15.6" fill="#1e3a63" textLength="228.5" lengthAdjust="spacingAndGlyphs">Horizontal target and eye position</text>
</svg>
<div id="rb"></div>
<div id="sep"></div>
<div id="bot"></div>
<div id="botbg"></div>
</body></html>
